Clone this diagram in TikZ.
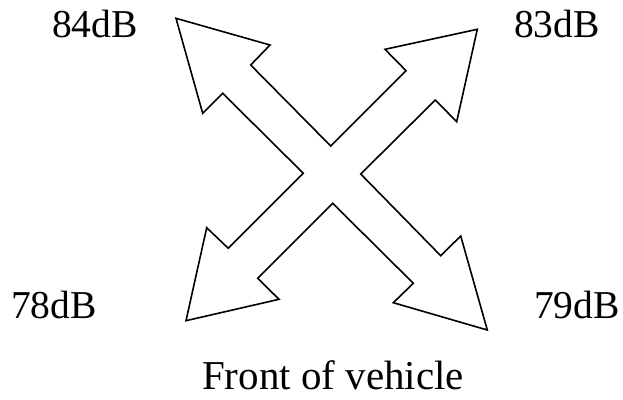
\documentclass[tikz,border=0pt]{standalone}
\usepackage{fontspec}
\setmainfont{Liberation Serif}
\begin{document}
\begin{tikzpicture}[x=1bp,y=-1bp,
  outline/.style={draw=black, line width=1.6bp, line join=miter, fill=white},
  level/.style={font=\fontsize{39.5bp}{44bp}\selectfont, inner sep=0pt, anchor=base west},
  caption/.style={font=\fontsize{41bp}{46bp}\selectfont, inner sep=0pt, anchor=base west}]
\useasboundingbox (0,0) rectangle (623,399);

% four-headed cross of arrows, drawn as one closed outline
\draw[outline]
  (176,18.3) -- (270,45) -- (250.7,65) -- (330.7,146)          % upper left head
  -- (406,70.7) -- (385,49.3) -- (477.3,29.3) -- (456.7,121.7)  % upper right head
  -- (435.3,100) -- (360.7,174)
  -- (440.7,255.7) -- (460.7,236) -- (487.3,330) -- (393.3,302.7) % lower right head
  -- (413.3,283.3) -- (332.7,203.3)
  -- (257.7,278.3) -- (279,299.3) -- (186,320.7) -- (206.7,227.7) % lower left head
  -- (228.3,248.3) -- (303.3,173.3)
  -- (222.7,93.3) -- (202.7,113.3) -- cycle;

% sound levels at the four corners
\node[level] (ul) at (52,37) {84dB};
\node[level] (ur) at (514,37) {83dB};
\node[level] (ll) at (11,318) {78dB};
\node[level] (lr) at (534,318) {79dB};

% caption below
\node[caption] (front) at (202,389) {Front of vehicle};
\end{tikzpicture}
\end{document}
